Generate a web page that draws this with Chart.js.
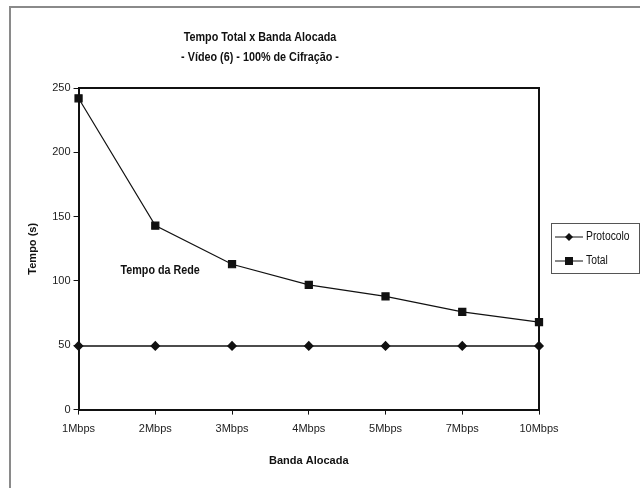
<!DOCTYPE html>
<html>
<head>
<meta charset="utf-8">
<script src="https://cdn.jsdelivr.net/npm/chart.js@4"></script>
<style>
    html, body { margin: 0; padding: 0; background: #fff; }
    #wrap { width: 640px; height: 488px; }
</style>
</head>
<body>
<div id="wrap"><canvas id="chart" width="640" height="488"></canvas></div>
<script>
// data
const bandas = ["1Mbps", "2Mbps", "3Mbps", "4Mbps", "5Mbps", "7Mbps", "10Mbps"];
const protocolo = [49.5, 49.5, 49.5, 49.5, 49.5, 49.5, 49.5];
const total = [242, 143, 113, 97, 88, 76, 68];
const yTicks = [0, 50, 100, 150, 200, 250];

const FONT = "'Liberation Sans', Arial, sans-serif";

// narrow-looking text: squeeze horizontally
function narrowText(ctx, text, x, y, sx) {
    ctx.save();
    ctx.translate(x, y);
    ctx.scale(sx, 1);
    ctx.fillText(text, 0, 0);
    ctx.restore();
}

// frame, plot border, titles, legend and label
const decor = {
    id: "decor",
    beforeDraw(chart) {
        const ctx = chart.ctx;
        ctx.save();
        ctx.strokeStyle = "#8a8a8a";
        ctx.lineWidth = 2;
        ctx.beginPath();
        ctx.moveTo(10, 488);
        ctx.lineTo(10, 7);
        ctx.lineTo(640, 7);
        ctx.stroke();
        ctx.restore();
    },
    afterDatasetsDraw(chart) {
        const ctx = chart.ctx;
        const a = chart.chartArea;
        ctx.save();
        ctx.strokeStyle = "#111";
        ctx.lineWidth = 2;
        ctx.beginPath();
        ctx.moveTo(a.left, a.top);
        ctx.lineTo(a.right, a.top);
        ctx.lineTo(a.right, a.bottom);
        ctx.stroke();

        // title
        ctx.fillStyle = "#111";
        ctx.textAlign = "center";
        ctx.textBaseline = "middle";
        ctx.font = "bold 13.5px " + FONT;
        narrowText(ctx, "Tempo Total x Banda Alocada", 260, 37, 0.8);
        narrowText(ctx, "- Vídeo (6) - 100% de Cifração -", 260, 57, 0.8);

        // annotation
        ctx.textAlign = "left";
        ctx.font = "bold 12.5px " + FONT;
        narrowText(ctx, "Tempo da Rede", a.left + 42, 271, 0.86);

        // legend
        ctx.strokeStyle = "#555";
        ctx.lineWidth = 1;
        ctx.strokeRect(551.5, 223.5, 88, 50);
        ctx.font = "12px " + FONT;
        ctx.strokeStyle = "#111";
        const items = [["Protocolo", 237, "diamond"], ["Total", 261, "square"]];
        items.forEach((it) => {
            ctx.beginPath();
            ctx.moveTo(555, it[1]);
            ctx.lineTo(583, it[1]);
            ctx.stroke();
            const cx = 569;
            ctx.fillStyle = "#111";
            if (it[2] === "square") {
                ctx.fillRect(cx - 4, it[1] - 4, 8, 8);
            } else {
                ctx.beginPath();
                ctx.moveTo(cx, it[1] - 4);
                ctx.lineTo(cx + 4, it[1]);
                ctx.lineTo(cx, it[1] + 4);
                ctx.lineTo(cx - 4, it[1]);
                ctx.closePath();
                ctx.fill();
            }
            narrowText(ctx, it[0], 586, it[1], 0.86);
        });
        ctx.restore();
    }
};

const ctx = document.getElementById("chart").getContext("2d");
const chart = new Chart(ctx, {
    type: "line",
    data: {
        labels: bandas,
        datasets: [
            {
                label: "Protocolo",
                data: protocolo,
                borderColor: "#111",
                backgroundColor: "#111",
                borderWidth: 1.5,
                pointStyle: "rectRot",
                pointRadius: 4,
                pointHoverRadius: 4,
                tension: 0,
            },
            {
                label: "Total",
                data: total,
                borderColor: "#111",
                backgroundColor: "#111",
                borderWidth: 1.2,
                pointStyle: "rect",
                pointRadius: 5,
                pointHoverRadius: 5,
                tension: 0,
            },
        ],
    },
    options: {
        responsive: false,
        animation: false,
        clip: false,
        layout: { padding: { top: 88, right: 101, left: 22, bottom: 16 } },
        plugins: {
            legend: { display: false },
            title: { display: false },
            tooltip: { enabled: false },
        },
        scales: {
            x: {
                offset: false,
                grid: { drawOnChartArea: false, tickLength: 5, color: "#111" },
                border: { color: "#111", width: 2 },
                ticks: { color: "#222", font: { family: FONT, size: 11 }, padding: 8, maxRotation: 0 },
                title: { display: true, text: "Banda Alocada", color: "#111", font: { family: FONT, size: 11, weight: "bold" }, padding: { top: 11 } },
            },
            y: {
                min: 0,
                max: 250,
                afterBuildTicks(scale) {
                    scale.ticks = yTicks.map((v) => ({ value: v }));
                },
                grid: { drawOnChartArea: false, tickLength: 5, color: "#111" },
                border: { color: "#111", width: 2 },
                ticks: { color: "#222", font: { family: FONT, size: 11 }, padding: 3 },
                title: { display: true, text: "Tempo (s)", color: "#111", font: { family: FONT, size: 11, weight: "bold" }, padding: { bottom: 10 } },
            },
        },
    },
    plugins: [decor],
});
</script>
</body>
</html>
